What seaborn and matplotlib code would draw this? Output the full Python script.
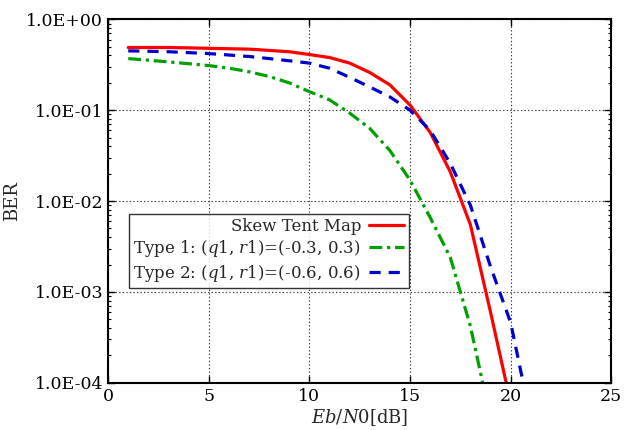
import numpy as np
import pandas as pd
import matplotlib.pyplot as plt
import seaborn as sns
from matplotlib.ticker import FuncFormatter, LogLocator, NullFormatter

# data
ebn0 = [1, 2, 3, 4, 5, 6, 7, 8, 9, 10, 11, 12, 13, 14, 15, 16, 17, 18, 19, 20, 21]
ber_skew = [0.49, 0.49, 0.49, 0.485, 0.48, 0.475, 0.47, 0.455, 0.44, 0.41, 0.38, 0.33,
            0.26, 0.19, 0.114, 0.057, 0.021, 0.0055, 0.0006, 0.00006, 0.000006]
ber_type1 = [0.37, 0.355, 0.34, 0.325, 0.31, 0.29, 0.265, 0.235, 0.2, 0.16, 0.13, 0.093,
             0.063, 0.036, 0.017, 0.0066, 0.0024, 0.00042, 0.00004, 0.000004, 0.0000004]
ber_type2 = [0.45, 0.445, 0.44, 0.43, 0.42, 0.405, 0.39, 0.37, 0.35, 0.33, 0.29, 0.23,
             0.18, 0.14, 0.1, 0.06, 0.026, 0.009, 0.0019, 0.00046, 0.00004]

labels = ["Skew Tent Map",
          r"Type 1: ($\mathit{q1}$, $\mathit{r1}$)=(-0.3, 0.3)",
          r"Type 2: ($\mathit{q1}$, $\mathit{r1}$)=(-0.6, 0.6)"]

df = pd.DataFrame({
    "EbN0": ebn0 * 3,
    "BER": ber_skew + ber_type1 + ber_type2,
    "Curve": [labels[0]] * len(ebn0) + [labels[1]] * len(ebn0) + [labels[2]] * len(ebn0),
})

sns.set_theme(style="ticks")
plt.rcParams['font.family'] = ['DejaVu Serif']
plt.rcParams['mathtext.fontset'] = 'dejavuserif'

fig, ax = plt.subplots(figsize=(6.25, 4.3), dpi=100)
pal = {labels[0]: "#ff0000", labels[1]: "#00a000", labels[2]: "#0000cc"}
dashes = {labels[0]: "", labels[1]: (4, 1.5, 1, 1.5), labels[2]: (3.5, 2.5)}
sns.lineplot(data=df, x="EbN0", y="BER", hue="Curve", style="Curve",
             palette=pal, dashes=dashes, linewidth=2.3, ax=ax)

ax.set_yscale('log')
ax.set_xlim(0, 25)
ax.set_ylim(1e-4, 1)
ax.set_xticks([0, 5, 10, 15, 20, 25])
ax.yaxis.set_major_locator(LogLocator(base=10, numticks=10))
ax.yaxis.set_minor_locator(LogLocator(base=10, subs=np.arange(2, 10), numticks=10))
ax.yaxis.set_minor_formatter(NullFormatter())
ax.yaxis.set_major_formatter(FuncFormatter(lambda v, p: "%.1E" % v))
ax.tick_params(which='both', direction='in', top=True, right=True, labelsize=12.5, colors='black')
ax.tick_params(which='major', length=5, width=1)
ax.tick_params(which='minor', length=2.5, width=0.8)
ax.grid(True, which='major', color='#333333', linestyle=(0, (1.2, 2)), linewidth=0.8)
for s in ax.spines.values():
    s.set_linewidth(1.5)
    s.set_color('black')

ax.set_xlabel(r"$\mathit{Eb/N0}$[dB]", fontsize=13, labelpad=2)
ax.set_ylabel("BER", fontsize=13)

leg = ax.legend(loc='upper left', bbox_to_anchor=(0.042, 0.465), markerfirst=False,
                fontsize=12, frameon=True, fancybox=False, handlelength=2.1,
                borderpad=0.25, labelspacing=0.2, handletextpad=0.5, borderaxespad=0)
leg.get_frame().set_edgecolor('black')
leg.get_frame().set_linewidth(1.0)
for t in leg.get_texts():
    t.set_ha('right')
leg._legend_box.align = "right"

fig.subplots_adjust(left=0.173, right=0.978, top=0.955, bottom=0.11)
fig.savefig("out.png", dpi=100)
